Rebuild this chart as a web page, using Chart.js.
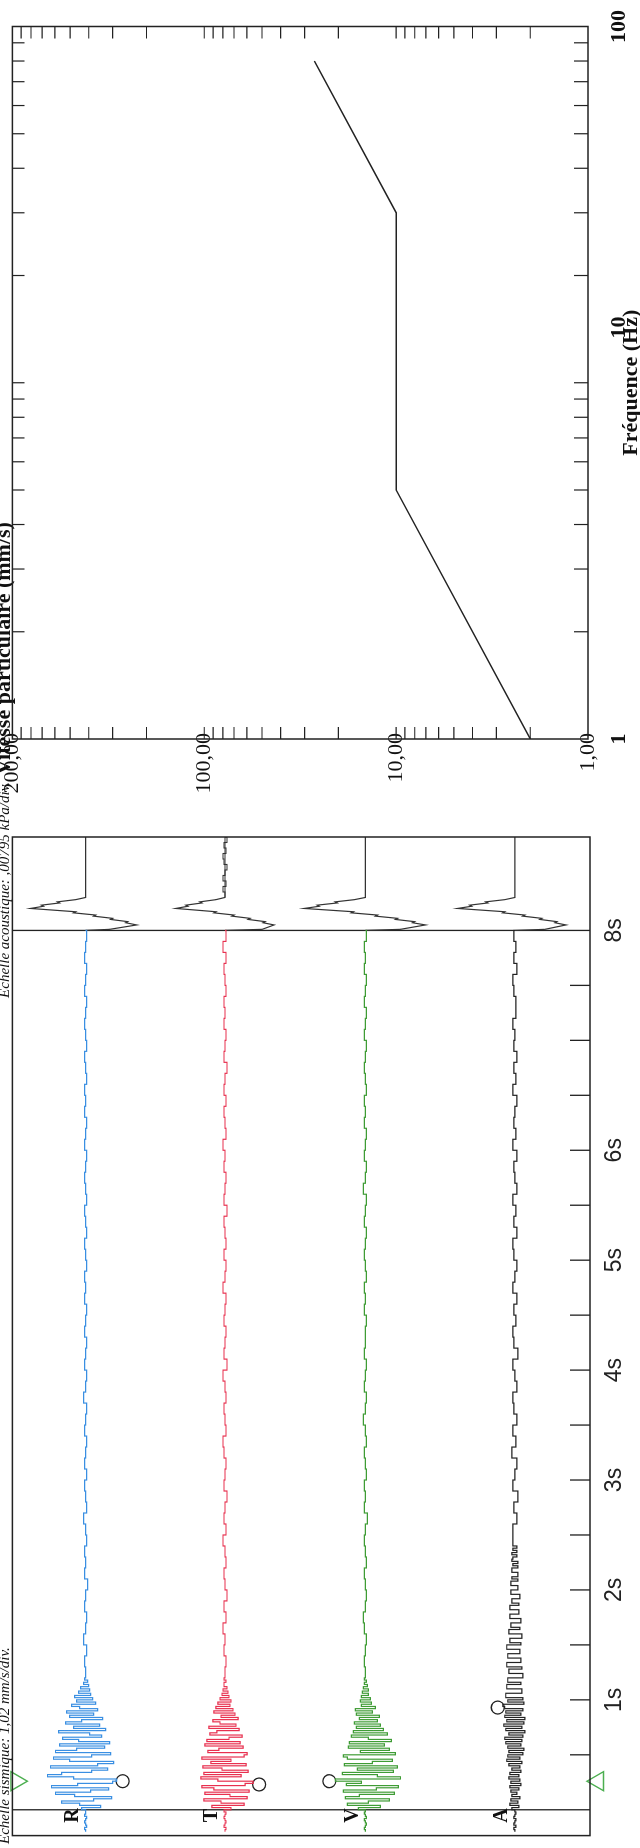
<!DOCTYPE html>
<html><head><meta charset="utf-8">
<script src="https://cdn.jsdelivr.net/npm/chart.js@4.4.1/dist/chart.umd.min.js"></script>
<style>
html,body{margin:0;padding:0;background:#fff;overflow:hidden;width:640px;height:1848px;}
#page{position:absolute;left:0;top:0;width:1848px;height:640px;transform-origin:0 0;transform:translate(0,1848px) rotate(-90deg);}
#c1{position:absolute;left:0;top:0;}
#c2{position:absolute;left:1030px;top:-9px;}
</style></head><body>
<div id="page">
<canvas id="c1" width="1090" height="640"></canvas>
<canvas id="c2" width="818" height="675"></canvas>
</div>
<script>
// ---------- Seismogram data (amplitude units, 1 unit ~ 1 mm/s) ----------
const channelNames = ['R', 'T', 'V', 'A'];
const channelColors = ['#3a8fe2', '#e8304f', '#3f9c35', '#222222'];

const rDense = [0, 0.1, -0.1, 0, 0.1, 0, -0.1, 0.1, 0, 0,
  0.4, -1.5, 0.6, 2.4, -0.8, -2.6, 1.1, 3.0, -0.5, -2.3,
  3.4, 0.8, -2.7, -3.1, 1.2, 3.8, 2.4, -0.6, -2.2, 3.5,
  -1.2, -2.8, 1.6, 3.2, -0.6, -2.5, 3.0, 0.9, -1.9, 2.6,
  -2.4, 0.7, 2.3, -1.6, -0.4, 2.7, -2.0, 1.2, -1.4, 2.0,
  0.4, -1.7, 1.6, -0.8, 1.9, -1.2, 0.6, 1.4, -1.0, 0.9,
  -0.7, 1.1, -0.5, 0.7, -0.4, 0.5, -0.3, 0.2, -0.2, 0.1, 0];
const rQuiet = [0.1, -0.1, 0.2, 0, -0.1, 0.1, 0, -0.2, 0.1, 0, 0.1, -0.1, 0, 0.2, -0.1, 0, 0.1, -0.1, 0.1, 0,
  -0.1, 0.1, 0, -0.1, 0.2, 0, -0.1, 0.1, 0, -0.1, 0.1, 0, -0.1, 0.1, 0, 0.1, -0.1, 0, 0.1, -0.1,
  0, 0.1, -0.1, 0, 0.1, 0, -0.1, 0.1, 0, -0.1, 0.1, 0, 0.1, -0.1, 0, 0.1, -0.1, 0, 0.1, 0,
  -0.1, 0.1, 0, -0.1, 0.1, 0, -0.1, 0];

const tDense = [0, -0.1, 0.1, 0, -0.1, 0, 0.1, 0, -0.1, 0.1,
  -0.6, 1.3, -1.9, 0.4, 2.1, -2.2, -0.5, 2.0, -2.4, 1.1,
  2.3, -2.0, -2.8, 0.7, 2.4, -1.6, 2.1, -2.3, 0.3, 2.2,
  -2.1, 1.4, -0.6, 2.3, -1.9, -2.2, 1.7, 0.6, -1.8, 2.0,
  -1.5, 1.8, -0.4, -1.7, 1.5, 0.8, -1.4, 1.6, -1.1, 0.5,
  1.2, -1.3, 0.4, -1.0, 1.1, -0.8, 0.9, -0.5, 0.7, -0.6,
  0.5, -0.4, 0.3, -0.3, 0.2, -0.2, 0.1, 0.1, -0.1, 0.1, 0];
const tQuiet = [-0.1, 0.1, 0, 0.2, -0.1, 0.1, -0.2, 0, 0.1, -0.1, 0, 0.2, -0.1, 0.1, 0, -0.2, 0.1, 0, -0.1, 0.1,
  0.2, -0.1, 0, 0.1, -0.1, 0, 0.2, -0.2, 0.1, 0, -0.1, 0.1, 0, -0.1, 0.2, 0, -0.1, 0.1, -0.1, 0,
  0.1, -0.2, 0.1, 0, -0.1, 0.1, 0, 0.2, -0.1, 0, 0.1, -0.1, 0.1, 0, -0.2, 0.1, 0, -0.1, 0.1, 0,
  0.1, -0.1, 0, 0.1, -0.1, 0.2, -0.1, 0];

const vDense = [0, 0.1, 0, -0.1, 0, 0.1, -0.1, 0, 0.1, 0,
  0.7, -1.5, 1.8, -0.3, -2.4, 2.0, 0.6, -2.9, 2.2, -1.1,
  -3.3, 1.9, 0.4, 3.0, -3.5, -1.2, 2.3, -2.8, 0.8, -3.2,
  2.1, -0.7, -2.7, 1.8, 2.2, -3.0, 0.5, -2.4, 1.7, -1.9,
  1.6, -2.6, -0.3, 1.4, -2.2, 1.2, -1.8, 0.9, -1.5, 1.1,
  -1.2, 0.6, -1.4, 0.9, -0.7, 1.0, -1.0, 0.4, -0.6, 0.5,
  -0.5, 0.4, -0.3, 0.3, -0.3, 0.2, -0.2, 0.1, -0.1, 0.1, 0];
const vQuiet = [0.1, 0, -0.1, 0.1, 0.2, 0, -0.1, 0, 0.1, -0.1, 0, 0.1, 0, -0.2, 0.1, 0, 0.1, -0.1, 0, 0.1,
  -0.1, 0, 0.2, 0, -0.1, 0.1, 0, -0.1, 0.1, 0, 0, -0.1, 0.1, 0, 0.1, -0.1, 0, 0.1, 0, -0.1,
  0.1, 0, -0.1, 0.2, 0, -0.1, 0.1, 0, -0.1, 0.1, 0, 0.1, -0.1, 0, 0.1, 0, -0.1, 0.1, 0, -0.1,
  0.1, 0, -0.1, 0.1, 0, 0.1, -0.1, 0];

const aDense = [0, 0.1, -0.1, 0.1, 0, -0.1, 0.1, 0, -0.1, 0,
  0.3, -0.4, 0.5, -0.3, 0.4, -0.5, 0.3, -0.2, 0.4, -0.4,
  0.5, -0.6, 0.4, -0.5, 0.6, -0.4, 0.5, -0.6, 0.3, -0.5,
  0.6, -0.7, 0.8, -0.5, 0.7, -0.8, 0.6, -0.9, 0.7, -0.6,
  0.9, -0.7, 1.0, -0.8, 0.6, -1.0, 0.9, -0.7, 1.1, -0.9,
  0.8, -1.0, 1.0, -0.6, 0.9, -0.8, 1.0, 1.2, -0.9, 0.7,
  -0.8, 0.9, 0.9, -0.7, -0.7, 0.8, 0.8, -0.6, 0.7, 0.7,
  -0.8, -0.8, 0.6, 0.6, -0.7, 0.8, 0.8, -0.6, -0.6, 0.7,
  0.7, -0.5, -0.5, 0.8, 0.8, -0.6, 0.5, 0.5, -0.7, -0.7,
  0.6, 0.6, -0.5, 0.4, 0.4, -0.6, -0.6, 0.5, 0.5, -0.4,
  -0.4, 0.5, 0.5, -0.4, 0.3, 0.3, -0.5, -0.5, 0.4, 0.4,
  -0.3, -0.3, 0.4, 0.4, -0.3, 0.3, -0.3, -0.3, 0.3, 0.3,
  -0.3, 0.2, -0.3, 0.3, 0.2, -0.2, 0.3, -0.2, 0.2, -0.2, 0.2];
const aQuiet = [0.2, -0.2, 0.1, -0.3, 0.2, 0, -0.2, 0.3, -0.1, 0.2, -0.2, 0.1, 0.2, -0.2, 0, 0.2, -0.3, 0.1, 0.2, -0.1,
  0.1, -0.2, 0.2, 0, -0.2, 0.1, 0.2, -0.2, 0.1, -0.1, 0.2, -0.2, 0, 0.1, -0.2, 0.2, -0.1, 0.1, 0, -0.2,
  0.2, -0.1, 0.1, -0.2, 0.1, 0, 0.2, -0.1, -0.1, 0.1, 0.2, -0.2, 0.1, -0.1, 0.1, 0];

// calibration pulses after the 8 s line (drawn in black)
const pulseTimes = [8.0, 8.01, 8.05, 8.07, 8.08, 8.10, 8.11, 8.13, 8.14, 8.16, 8.17, 8.20, 8.22, 8.23, 8.25, 8.26, 8.28, 8.30, 8.85];
const rPulse = [0, -2.4, -5.1, -4.0, -4.2, -2.5, -2.7, -0.8, -1.0, 1.2, 1.0, 5.5, 4.2, 4.4, 2.6, 2.8, 1.0, 0, 0];
const tPulse = [0, -3.7, -4.9, -3.8, -4.0, -2.3, -2.5, -0.7, -0.9, 1.1, 0.9, 4.9, 3.7, 3.9, 2.3, 2.5, 0.9, 0, 0];
const vPulse = [0, -3.5, -6.0, -4.7, -4.9, -3.0, -3.2, -1.0, -1.2, 1.4, 1.2, 6.1, 4.6, 4.8, 2.8, 3.0, 1.1, 0, 0];
const aPulse = [0, -3.0, -5.1, -4.0, -4.2, -2.5, -2.7, -0.8, -1.0, 1.2, 1.0, 5.7, 4.3, 4.5, 2.7, 2.9, 1.0, 0, 0];
const tTailTimes = [8.30, 8.35, 8.40, 8.45, 8.50, 8.55, 8.60, 8.65, 8.70, 8.75, 8.80, 8.85];
const tTail = [0, 0.2, -0.1, 0.2, 0, -0.2, 0.1, 0.2, -0.1, 0.1, -0.2, 0];

// peak markers (circles), trigger line and trigger marks
const peakTimes = [0.26, 0.23, 0.26, 0.93];
const peakMarks = [-3.7, -3.4, 3.6, 1.7];
const triggerLineTime = 0;
const triggerMarkTime = 0.26;

// time axis
const timeTickValues = [0.5, 1, 1.5, 2, 2.5, 3, 3.5, 4, 4.5, 5, 5.5, 6, 6.5, 7, 7.5, 8];
const timeTickLabels = ['', '1s', '', '2s', '', '3s', '', '4s', '', '5s', '', '6s', '', '', '', '8s'];

// ---------- Frequency chart data ----------
const limitFreq = [1, 5, 30, 80];
const limitVel = [2, 10, 10, 26.7];
const freqLabelAnchors = [1, 14.3, 100];
const freqTickLabels = ['1', '10', '100'];
const velTickValues = [1, 10, 100, 1000];
const velTickLabels = ['1,00', '10,00', '100,00', '200,00'];
const freqMarks = [2, 3, 4, 5, 6, 7, 8, 9, 10, 20, 30, 40, 50, 60, 70, 80, 90];
const velMarks = [2, 3, 4, 5, 6, 7, 8, 9, 10, 20, 30, 40, 50, 60, 70, 80, 90, 100, 200, 300, 400, 500, 600, 700, 800, 900];

// ---------- build ----------
function grid(start, step, n) { return Array.from({length: n}, (_, i) => +(start + i * step).toFixed(2)); }
const rtvTimes = grid(-0.20, 0.02, 71).concat(grid(1.3, 0.1, 68));
const aTimes = grid(-0.20, 0.02, 131).concat(grid(2.5, 0.1, 56));
const bandHalf = 28.8;
const offsets = [21.5, 7.6, -6.4, -21.3];
const traces = [rDense.concat(rQuiet), tDense.concat(tQuiet), vDense.concat(vQuiet), aDense.concat(aQuiet)];
const traceTimes = [rtvTimes, rtvTimes, rtvTimes, aTimes];
const pulses = [rPulse, tPulse, vPulse, aPulse];

const seisSets = [];
traces.forEach((vals, c) => {
  seisSets.push({data: traceTimes[c].map((t, i) => ({x: t, y: vals[i] + offsets[c]})),
    borderColor: channelColors[c], borderWidth: 1.2, pointRadius: 0, stepped: true, fill: false});
});
pulses.forEach((vals, c) => {
  seisSets.push({data: pulseTimes.map((t, i) => ({x: t, y: vals[i] + offsets[c]})),
    borderColor: '#333', borderWidth: 1.2, pointRadius: 0, tension: 0, fill: false});
});
seisSets.push({data: tTailTimes.map((t, i) => ({x: t, y: tTail[i] + offsets[1]})),
  borderColor: '#333', borderWidth: 1.1, pointRadius: 0, stepped: true, fill: false});
seisSets.push({data: peakTimes.map((t, i) => ({x: t, y: peakMarks[i] + offsets[i]})), showLine: false,
  pointStyle: 'circle', pointRadius: 6.5, pointBorderColor: '#222', pointBackgroundColor: 'rgba(0,0,0,0)', pointBorderWidth: 1.3});
seisSets.push({data: [{x: triggerMarkTime, y: bandHalf - 0.4}, {x: triggerMarkTime, y: -bandHalf - 0.8}], showLine: false, clip: false,
  pointStyle: 'triangle', pointRadius: 11, pointRotation: [180, 0], pointBorderColor: '#4caf50',
  pointBackgroundColor: 'rgba(0,0,0,0)', pointBorderWidth: 1.4});

const seisDecor = {
  id: 'seisDecor',
  beforeDatasetsDraw(chart) {
    const {ctx, chartArea: a, scales: {x}} = chart;
    ctx.save();
    ctx.strokeStyle = '#222'; ctx.lineWidth = 1.3;
    ctx.beginPath();
    [triggerLineTime, 8].forEach(t => { const px = x.getPixelForValue(t); ctx.moveTo(px, a.top); ctx.lineTo(px, a.bottom); });
    x.ticks.forEach(tk => { const px = x.getPixelForValue(tk.value); ctx.moveTo(px, a.bottom); ctx.lineTo(px, a.bottom - 20); });
    ctx.stroke();
    ctx.restore();
  },
  afterDraw(chart) {
    const {ctx, chartArea: a, scales: {y}} = chart;
    ctx.save();
    ctx.strokeStyle = '#222'; ctx.lineWidth = 1.5;
    ctx.strokeRect(a.left, a.top, a.width, a.height);
    ctx.fillStyle = '#111';
    ctx.font = 'bold 20px "Liberation Serif"'; ctx.textAlign = 'center'; ctx.textBaseline = 'middle';
    channelNames.forEach((n, c) => ctx.fillText(n, a.left + 20, y.getPixelForValue(offsets[c]) - 13));
    ctx.font = 'italic 15px "Liberation Serif"'; ctx.textBaseline = 'alphabetic';
    ctx.textAlign = 'left'; ctx.fillText('Echelle sismique: 1,02 mm/s/div.', 4, 9);
    ctx.textAlign = 'right'; ctx.fillText('Echelle acoustique: ,00795 kPa/div.', 1066, 9);
    ctx.restore();
  }
};

new Chart(document.getElementById('c1'), {
  type: 'line',
  data: {datasets: seisSets},
  options: {
    responsive: false, animation: false,
    layout: {padding: {left: 5, right: 79, top: 12, bottom: 10}},
    plugins: {legend: {display: false}, tooltip: {enabled: false}},
    scales: {
      x: {type: 'linear', min: -0.235, max: 8.85,
        afterBuildTicks: s => { s.ticks = timeTickValues.map(v => ({value: v})); },
        afterFit: s => { s.height = 40; },
        grid: {display: false}, border: {display: false},
        ticks: {autoSkip: false, maxRotation: 0, padding: 3, color: '#222',
          font: {family: 'Liberation Sans', size: 23}, callback: (v, i) => timeTickLabels[i]}},
      y: {display: false, min: -bandHalf, max: bandHalf}
    }
  },
  plugins: [seisDecor]
});

const freqDecor = {
  id: 'freqDecor',
  afterDraw(chart) {
    const {ctx, chartArea: a, scales: {x, y}} = chart;
    ctx.save();
    ctx.strokeStyle = '#222'; ctx.lineWidth = 1.5;
    ctx.strokeRect(a.left, a.top, a.width, a.height);
    ctx.lineWidth = 1.2; ctx.beginPath();
    freqMarks.forEach(f => { const px = x.getPixelForValue(f);
      ctx.moveTo(px, a.bottom); ctx.lineTo(px, a.bottom - 14); ctx.moveTo(px, a.top); ctx.lineTo(px, a.top + 12); });
    velMarks.forEach(v => { const py = y.getPixelForValue(v);
      ctx.moveTo(a.left, py); ctx.lineTo(a.left + 12, py); ctx.moveTo(a.right, py); ctx.lineTo(a.right - 12, py); });
    ctx.stroke();
    ctx.restore();
  }
};

// width of the widest velocity label, used to right-align the mirrored labels just past the frame edge
const velFont = '22px "Liberation Serif"';
const mctx = document.createElement('canvas').getContext('2d');
mctx.font = velFont;
const velWidest = Math.max(...velTickLabels.map(l => mctx.measureText(l).width));

new Chart(document.getElementById('c2'), {
  type: 'line',
  data: {datasets: [{data: limitFreq.map((f, i) => ({x: f, y: limitVel[i]})), borderColor: '#222', borderWidth: 1.5, pointRadius: 0, tension: 0}]},
  options: {
    responsive: false, animation: false,
    layout: {padding: {left: 43, right: 23, top: 0, bottom: 21}},
    plugins: {legend: {display: false}, tooltip: {enabled: false},
      title: {display: true, text: 'Vitesse particulaire (mm/s)', align: 'start', padding: {top: 0, bottom: -5}, color: '#111',
        font: {family: 'Liberation Serif', size: 22, weight: 'bold'}}},
    scales: {
      x: {type: 'logarithmic', min: 1, max: 100,
        afterBuildTicks: s => { s.ticks = freqLabelAnchors.map(v => ({value: v})); },
        afterFit: s => { s.height = 57; },
        grid: {display: false}, border: {display: false},
        ticks: {autoSkip: false, maxRotation: 0, padding: 10, color: '#111',
          font: {family: 'Liberation Serif', size: 22, weight: 'bold'}, callback: (v, i) => freqTickLabels[i]},
        title: {display: true, text: 'Fréquence (Hz)', color: '#111', padding: {top: 0, bottom: 0},
          font: {family: 'Liberation Serif', size: 22, weight: 'bold'}}},
      y: {type: 'logarithmic', min: 1, max: 1000,
        afterBuildTicks: s => { s.ticks = velTickValues.map(v => ({value: v})); },
        afterFit: s => { s.width = 36; },
        grid: {display: false}, border: {display: false},
        ticks: {autoSkip: false, mirror: true, crossAlign: 'far', padding: 6 - velWidest, color: '#111',
          font: {family: 'Liberation Serif', size: 22}, callback: (v, i) => velTickLabels[i]}}
    }
  },
  plugins: [freqDecor]
});
</script>
</body></html>
